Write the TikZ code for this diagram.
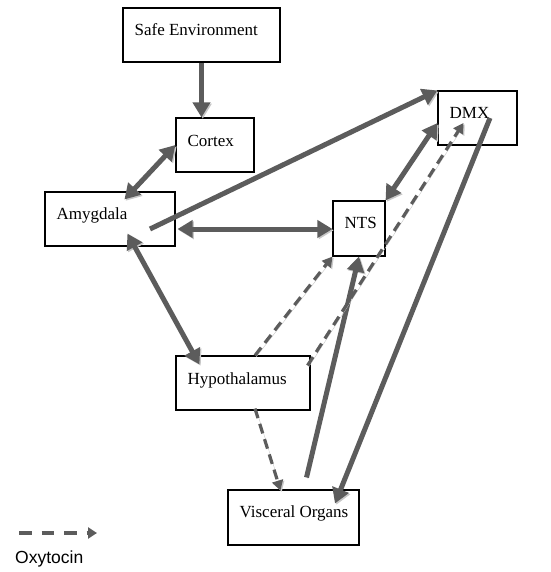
\documentclass[tikz,border=0pt]{standalone}
\usepackage{fontspec}
\setmainfont{Liberation Serif}
\newfontfamily\legendfont{Liberation Sans}
\usetikzlibrary{arrows.meta}
\definecolor{arrgray}{RGB}{92,92,92}
\definecolor{shgray}{RGB}{200,200,200}
\tikzset{
  box/.style={draw=black, line width=1.1pt, fill=white, inner sep=0pt},
  lbl/.style={anchor=base west, inner sep=0pt, font=\fontsize{17}{18}\selectfont},
  shadowed/.style={preaction={draw=shgray, transform canvas={xshift=1.3pt,yshift=-1.3pt}}},
  solidarr/.style={shadowed, draw=arrgray, line width=5pt, -{Triangle[length=15pt,width=17pt]}},
  bothsolid/.style={shadowed, draw=arrgray, line width=5pt, {Triangle[length=15pt,width=17pt]}-{Triangle[length=15pt,width=17pt]}},
  dasharr/.style={shadowed, draw=arrgray, line width=3.2pt, dash pattern=on 10pt off 6pt, -{Triangle[length=10pt,width=11pt]}},
  legarr/.style={draw=arrgray, line width=4.5pt, dash pattern=on 12.5pt off 10pt, -{Triangle[length=9pt,width=11pt]}},
}
\begin{document}
\begin{tikzpicture}[x=1pt,y=-1pt]
\useasboundingbox (0,0) rectangle (550,572);
% boxes
\node[box, minimum width=157pt, minimum height=54pt] (se) at (201.5,35) {};
\node[box, minimum width=78pt, minimum height=54pt] (cx) at (215,145) {};
\node[box, minimum width=130pt, minimum height=54pt] (amy) at (110,219) {};
\node[box, minimum width=52pt, minimum height=55pt] (nts) at (359,228.5) {};
\node[box, minimum width=79pt, minimum height=54pt] (dmx) at (477.5,118) {};
\node[box, minimum width=134pt, minimum height=54pt] (hyp) at (243,383) {};
\node[box, minimum width=131pt, minimum height=55pt] (vo) at (293.5,517.5) {};
% labels
\node[lbl] (tse) at ([shift={(12,28)}]se.north west) {Safe Environment};
\node[lbl] (tcx) at ([shift={(12,29)}]cx.north west) {Cortex};
\node[lbl] (tamy) at ([shift={(12,28)}]amy.north west) {Amygdala};
\node[lbl] (tnts) at ([shift={(12,28)}]nts.north west) {NTS};
\node[lbl] (tdmx) at ([shift={(12,28)}]dmx.north west) {DMX};
\node[lbl] (thyp) at ([shift={(12,29)}]hyp.north west) {Hypothalamus};
\node[lbl] (tvo) at ([shift={(12,28)}]vo.north west) {Visceral Organs};
% connectors
\draw[solidarr] (se.south) -- (se.south |- cx.north);
\draw[bothsolid] ([shift={(80,8)}]amy.north west) -- (cx.west);
\draw[solidarr] ([shift={(40,10)}]amy.center) -- (dmx.north west);
\draw[bothsolid] ([shift={(2,10)}]amy.east) -- ([shift={(0,0.5)}]nts.west);
\draw[bothsolid] (nts.north east) -- ([shift={(0,5)}]dmx.west);
\draw[bothsolid] ([shift={(83,-13)}]amy.south west) -- ([shift={(24,9)}]hyp.north west);
\draw[solidarr] ([shift={(13,-12)}]vo.north) -- (nts.south);
\draw[solidarr] ([shift={(12.5,0)}]dmx.center) -- ([shift={(41.5,14)}]vo.north);
\draw[dasharr] ([shift={(-3,10)}]hyp.north east) -- ([shift={(-14,5)}]dmx.center);
\draw[dasharr] ([shift={(12,0)}]hyp.north) -- (nts.south west);
\draw[dasharr] ([shift={(12,-2)}]hyp.south) -- ([shift={(-13,1)}]vo.north);
% legend
\coordinate (lgs) at (19,533);
\coordinate (lge) at (97,533);
\draw[legarr] (lgs) -- (lge);
\node[anchor=base west, inner sep=0pt, font=\legendfont\fontsize{17.5}{19}\selectfont] (leg) at (15,563) {Oxytocin};
\end{tikzpicture}
\end{document}
